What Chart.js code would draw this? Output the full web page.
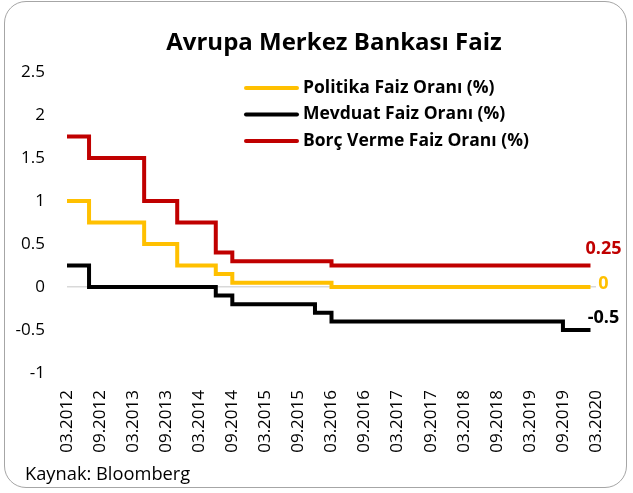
<!DOCTYPE html>
<html>
<head>
<meta charset="utf-8">
<script src="https://cdn.jsdelivr.net/npm/chart.js@4.4.0/dist/chart.umd.min.js"></script>
<style>
    html, body { margin:0; padding:0; background:#fff; }
    #kutu { position:relative; width:633px; height:493px; }
    #cerceve { position:absolute; left:4px; top:1px; width:621px; height:485px; border:1.5px solid #a6a6a6; border-radius:22px; }
    #kaynak { position:absolute; left:25px; top:460px; font-family:"Open Sans"; font-size:18.3px; color:#000; }
    canvas { position:absolute; left:0; top:0; }
</style>
</head>
<body>
<div id="kutu">
    <div id="cerceve"></div>
    <canvas id="grafik" width="633" height="493"></canvas>
    <div id="kaynak">Kaynak: Bloomberg</div>
</div>
<script>
let baslik = 'Avrupa Merkez Bankası Faiz';

// x ekseni etiketleri (6 ayda bir)
let tarihEtiketleri = ['03.2012','09.2012','03.2013','09.2013','03.2014','09.2014','03.2015','09.2015',
    '03.2016','09.2016','03.2017','09.2017','03.2018','09.2018','03.2019','09.2019','03.2020'];

// faiz degisiklik tarihleri ve degerleri
let politikaTarih = ['03.2012','07.2012','05.2013','11.2013','06.2014','09.2014','03.2016','02.2020'];
let politikaFaiz  = [1, 0.75, 0.5, 0.25, 0.15, 0.05, 0, 0];

let mevduatTarih = ['03.2012','07.2012','06.2014','09.2014','12.2015','03.2016','09.2019','02.2020'];
let mevduatFaiz  = [0.25, 0, -0.1, -0.2, -0.3, -0.4, -0.5, -0.5];

let borcTarih = ['03.2012','07.2012','05.2013','11.2013','06.2014','09.2014','03.2016','02.2020'];
let borcFaiz  = [1.75, 1.5, 1, 0.75, 0.4, 0.3, 0.25, 0.25];

// son deger etiketlerinin dikey kaymasi
let etiketKayma = [-3, -12, -17];

function ayNo(s){
    let p = s.split('.');
    return (parseInt(p[1]) - 2012)*12 + parseInt(p[0]) - 3;
}

function seri(tarihler, degerler){
    let d = [];
    for(i=0; i<tarihler.length; i++){
        d.push({x: ayNo(tarihler[i]), y: degerler[i]});
    }
    return d;
}

const ekYazilar = {
    id: 'ekYazilar',
    afterDatasetsDraw(chart) {
        const ctx = chart.ctx;
        ctx.save();
        ctx.fillStyle = '#000';
        ctx.font = 'bold 24px "Open Sans"';
        ctx.textAlign = 'center';
        ctx.textBaseline = 'middle';
        ctx.fillText(baslik, 334, 43);

        // lejant
        ctx.font = 'bold 17.5px "Open Sans"';
        ctx.textAlign = 'left';
        ctx.lineWidth = 4;
        ctx.lineCap = 'round';
        chart.data.datasets.forEach(function(ds, i){
            let y = 88 + i*26.5;
            ctx.strokeStyle = ds.borderColor;
            ctx.beginPath();
            ctx.moveTo(246, y);
            ctx.lineTo(297, y);
            ctx.stroke();
            ctx.fillStyle = '#000';
            ctx.fillText(ds.label, 303, y);
        });

        // son degerler
        ctx.font = 'bold 18px "Open Sans"';
        ctx.textAlign = 'center';
        chart.data.datasets.forEach(function(ds, i){
            let meta = chart.getDatasetMeta(i);
            let p = meta.data[meta.data.length-1];
            ctx.fillStyle = ds.borderColor;
            ctx.fillText(String(ds.data[ds.data.length-1].y), p.x + 13, p.y + etiketKayma[i]);
        });
        ctx.restore();
    }
};

const ctx = document.getElementById('grafik').getContext('2d');
const grafik = new Chart(ctx, {
    type: 'line',
    data: {
        datasets: [{
            label: 'Politika Faiz Oranı (%)',
            data: seri(politikaTarih, politikaFaiz),
            borderColor: '#FFC000'
        },{
            label: 'Mevduat Faiz Oranı (%)',
            data: seri(mevduatTarih, mevduatFaiz),
            borderColor: '#000000'
        },{
            label: 'Borç Verme Faiz Oranı (%)',
            data: seri(borcTarih, borcFaiz),
            borderColor: '#C00000'
        }]
    },
    options: {
        responsive: false,
        animation: false,
        layout: { padding: { left: 0, right: 37, top: 72, bottom: 35 } },
        elements: {
            line: { borderWidth: 4, stepped: true, tension: 0 },
            point: { radius: 0 }
        },
        plugins: {
            legend: { display: false },
            title: { display: false },
            tooltip: { enabled: false }
        },
        scales: {
            x: {
                type: 'linear',
                min: 0,
                max: 96,
                grid: { display: false },
                border: { display: false },
                ticks: {
                    stepSize: 6,
                    autoSkip: false,
                    minRotation: 90,
                    maxRotation: 90,
                    padding: 9,
                    color: '#000',
                    font: { family: 'Open Sans', size: 17 },
                    callback: function(v){ return tarihEtiketleri[v/6]; }
                },
                afterFit: function(s){ s.height = 85; s.paddingLeft = 0; s.paddingRight = 0; }
            },
            y: {
                min: -1,
                max: 2.5,
                grid: {
                    drawTicks: false,
                    lineWidth: 1.5,
                    color: function(c){ return c.tick && c.tick.value === 0 ? '#d9d9d9' : 'rgba(0,0,0,0)'; }
                },
                border: { display: false },
                ticks: {
                    stepSize: 0.5,
                    padding: 22,
                    color: '#000',
                    font: { family: 'Open Sans', size: 17 },
                    callback: function(v){ return String(v); }
                },
                afterFit: function(s){ s.width = 67; }
            }
        }
    },
    plugins: [ekYazilar]
});
</script>
</body>
</html>
